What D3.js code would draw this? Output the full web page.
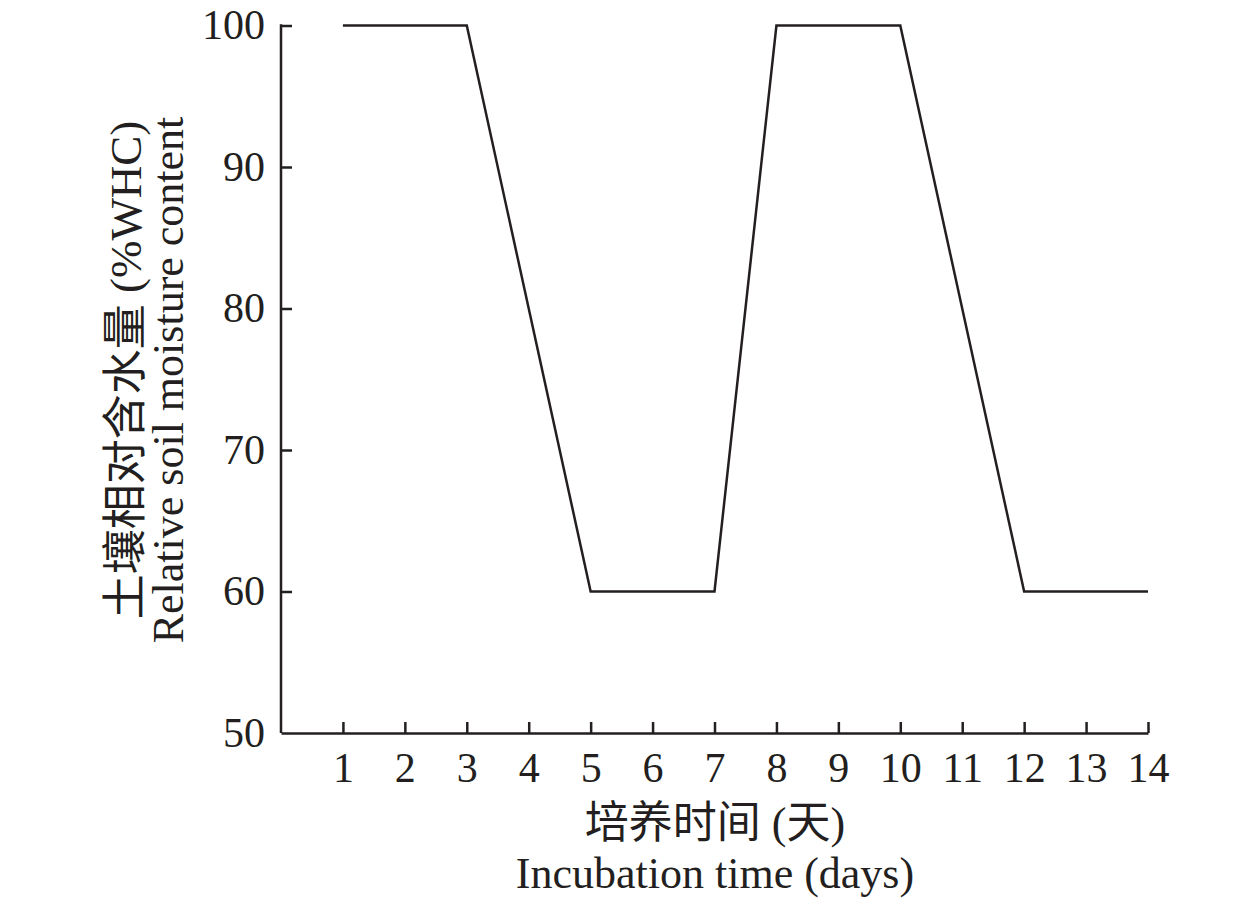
<!DOCTYPE html>
<html><head><meta charset="utf-8">
<script src="https://cdn.jsdelivr.net/npm/d3@7"></script>
<style>
html,body{margin:0;padding:0;background:#fff;}
text{font-family:"Liberation Serif","Times New Roman","Noto Sans CJK SC",serif;fill:#231f20;}
</style></head>
<body><svg id="c" width="1260" height="902"></svg>
<script>
const days = [1,2,3,4,5,6,7,8,9,10,11,12,13,14];
const moisture = [100,100,100,80,60,60,60,100,100,100,80,60,60,60];
const xTicks = [1,2,3,4,5,6,7,8,9,10,11,12,13,14];
const yTicks = [50,60,70,80,90,100];
const yLabelCN = "土壤相对含水量 (%WHC)";
const yLabelEN = "Relative soil moisture content";
const xLabelCN = "培养时间 (天)";
const xLabelEN = "Incubation time (days)";

const svg = d3.select("#c");
const x = d3.scaleLinear().domain([0,14]).range([281,1148]);
const y = d3.scaleLinear().domain([50,100]).range([733,25.5]);
const col = "#231f20";

const xa = svg.append("g").attr("transform","translate(0,733)")
  .call(d3.axisBottom(x).tickValues(xTicks).tickSizeInner(-11).tickSizeOuter(0).tickPadding(19));
const ya = svg.append("g").attr("transform","translate(281,0)")
  .call(d3.axisLeft(y).tickValues(yTicks).tickSizeInner(-11).tickSizeOuter(0).tickPadding(16));
[xa,ya].forEach(g=>{
  g.select(".domain").attr("stroke",col).attr("stroke-width",2.5);
  g.selectAll(".tick line").attr("stroke",col).attr("stroke-width",2.5);
  g.selectAll(".tick text").attr("font-size",42).attr("fill",col)
   .attr("font-family","Liberation Serif, Times New Roman, serif");
});
ya.select(".domain").attr("d","M0,733V24.3");
ya.selectAll(".tick").filter(d=>d===50).select("line").remove();
xa.selectAll(".tick text").attr("dy","0.71em");

svg.append("path").datum(days.map((d,i)=>[d,moisture[i]]))
  .attr("fill","none").attr("stroke",col).attr("stroke-width",2.5).attr("stroke-linejoin","miter")
  .attr("d", d3.line().x(d=>x(d[0])).y(d=>y(d[1])));

svg.append("text").attr("transform","translate(141,370) rotate(-90)")
  .attr("text-anchor","middle").attr("font-size",45).text(yLabelCN);
svg.append("text").attr("transform","translate(183,380) rotate(-90)")
  .attr("text-anchor","middle").attr("font-size",44).text(yLabelEN);
svg.append("text").attr("x",715).attr("y",838).attr("text-anchor","middle").attr("font-size",44).text(xLabelCN);
svg.append("text").attr("x",715).attr("y",888).attr("text-anchor","middle").attr("font-size",44).text(xLabelEN);
</script></body></html>
